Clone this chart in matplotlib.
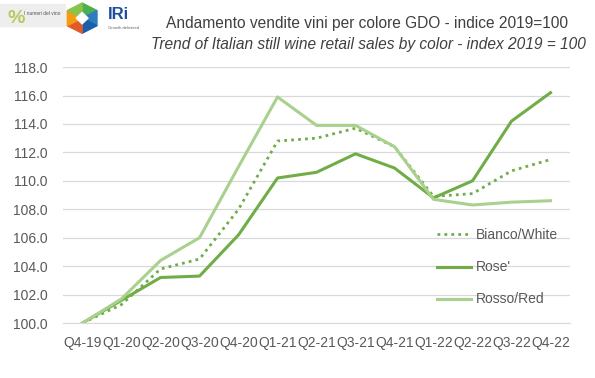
import matplotlib.pyplot as plt
from matplotlib.patches import Polygon, Rectangle

quarters = ["Q4-19", "Q1-20", "Q2-20", "Q3-20", "Q4-20", "Q1-21", "Q2-21",
            "Q3-21", "Q4-21", "Q1-22", "Q2-22", "Q3-22", "Q4-22"]
bianco = [100.0, 101.3, 103.8, 104.5, 108.0, 112.8, 113.0, 113.7, 112.4, 108.9, 109.1, 110.7, 111.5]
rose = [100.0, 101.6, 103.2, 103.3, 106.2, 110.2, 110.6, 111.9, 110.9, 108.8, 110.0, 114.2, 116.2]
rosso = [100.0, 101.7, 104.4, 106.0, 111.0, 115.9, 113.9, 113.9, 112.4, 108.7, 108.3, 108.5, 108.6]
yticks = [100, 102, 104, 106, 108, 110, 112, 114, 116, 118]

GREEN = "#70AD47"
LIGHT = "#A9D18E"
GREY = "#595959"

plt.rcParams["font.family"] = ["Liberation Sans", "DejaVu Sans"]


def main():
    fig = plt.figure(figsize=(5.95, 3.78), dpi=100)
    ax = fig.add_axes([0.106, 0.1455, 0.852, 0.677])

    x = range(len(quarters))
    ax.plot(x, bianco, color=GREEN, lw=2, linestyle=(0, (1, 1.5)), label="Bianco/White")
    ax.plot(x, rose, color=GREEN, lw=2.2, label="Rose'")
    ax.plot(x, rosso, color=LIGHT, lw=2.2, label="Rosso/Red")

    ax.set_xlim(-0.5, len(quarters) - 0.5)
    ax.set_ylim(100, 118)
    ax.set_yticks(yticks)
    ax.set_yticklabels([f"{v:.1f}" for v in yticks])
    ax.set_xticks(list(x))
    ax.set_xticklabels(quarters)
    ax.tick_params(length=0, colors=GREY, labelsize=10)
    ax.tick_params(axis="x", pad=9)
    ax.tick_params(axis="y", pad=11)
    ax.grid(axis="y", color="#D9D9D9", lw=0.9)
    ax.set_axisbelow(True)
    for s in ["top", "right", "left"]:
        ax.spines[s].set_visible(False)
    ax.spines["bottom"].set_color("#D9D9D9")

    ax.legend(frameon=False, loc="upper left", bbox_to_anchor=(0.738, 0.37),
              borderaxespad=0, borderpad=0,
              fontsize=10, labelcolor=GREY, handlelength=2.45,
              handletextpad=0.35, labelspacing=1.3)

    fig.text(0.617, 0.938, "Andamento vendite vini per colore GDO - indice 2019=100",
             ha="center", va="center", fontsize=11.2, color="#404040")
    fig.text(0.619, 0.883, "Trend of Italian still wine retail sales by color - index 2019 = 100",
             ha="center", va="center", fontsize=11.2, color="#404040", style="italic")

    # logos (rough approximation)
    fig.patches.append(Rectangle((0.0, 0.93), 0.11, 0.06, transform=fig.transFigure,
                                 color="#EEEEEE", zorder=0))
    fig.text(0.012, 0.95, "%", fontsize=14, color="#B5CC5E", fontweight="bold", va="center")
    fig.text(0.04, 0.965, "I numeri del vino", fontsize=3.5, color="#555555", va="center")
    cx, cy = 0.138, 0.952
    w, h = 0.025, 0.04
    hexa = [(cx, cy + h), (cx + w, cy + h / 2), (cx + w, cy - h / 2),
            (cx, cy - h), (cx - w, cy - h / 2), (cx - w, cy + h / 2)]
    cols = ["#4CAF50", "#2E7DC0", "#1A5FA8", "#E05A2A", "#F39C12", "#8BC34A"]
    for i in range(6):
        tri = [(cx, cy), hexa[i], hexa[(i + 1) % 6]]
        fig.patches.append(Polygon(tri, closed=True, transform=fig.transFigure,
                                   color=cols[i]))
    fig.patches.append(Polygon([(cx, cy + 0.015), (cx + 0.01, cy), (cx, cy - 0.015), (cx - 0.01, cy)],
                               closed=True, transform=fig.transFigure, color="white"))
    fig.text(0.182, 0.962, "IRi", fontsize=12, color="#1F4E9E", fontweight="bold", va="center")
    fig.text(0.182, 0.925, "Growth delivered", fontsize=3, color="#666666", va="center")

    fig.savefig("out.png", dpi=100)


if __name__ == "__main__":
    main()
